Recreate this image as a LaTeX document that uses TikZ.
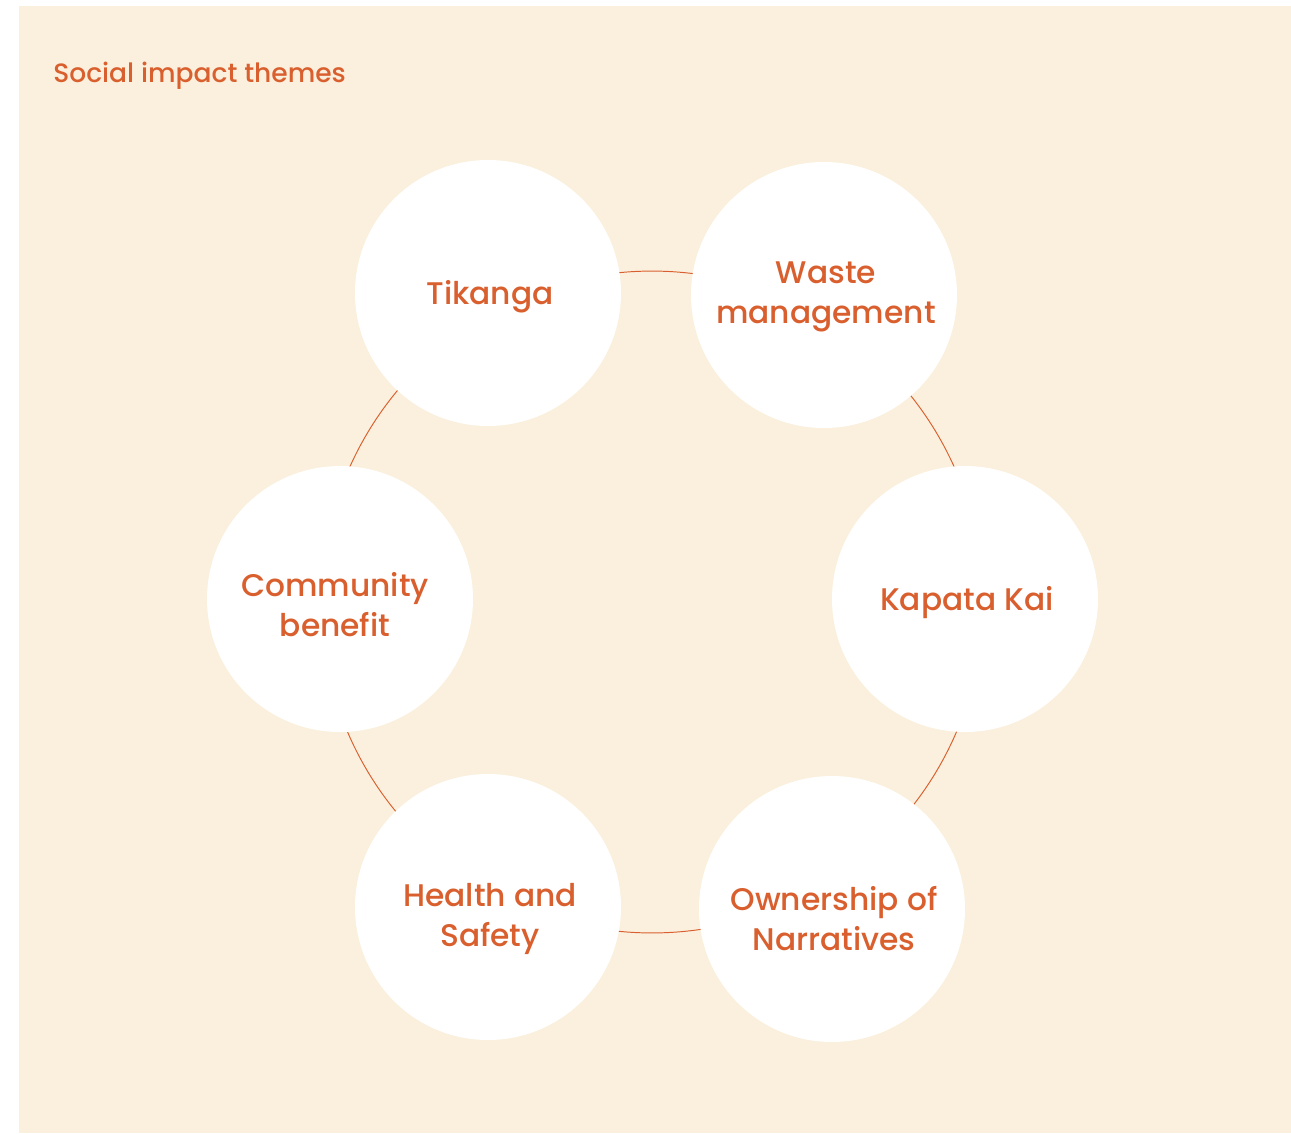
\documentclass[tikz,border=0pt]{standalone}
\usepackage{fontspec}
\setmainfont{Poppins}[UprightFont=* Medium]
\usepackage{tikz}
\usetikzlibrary{positioning}

\definecolor{sand}{HTML}{FBF0DD}
\definecolor{rust}{HTML}{D9602E}

\begin{document}
\begin{tikzpicture}
			[x=0.02cm,y=-0.02cm,
			theme/.style={circle,fill=white,inner sep=0pt,minimum size=5.32cm},
			themetext/.style={anchor=base,inner sep=0pt,text=rust,align=center,
				font=\fontsize{17.8}{22.5}\selectfont}]
			\useasboundingbox (0,0) rectangle (1291,1133);
			\fill[sand] (19,6) rectangle (1291,1133);
			\node[anchor=base west,inner sep=0pt,text=rust,font=\fontsize{15.1}{18}\selectfont]
				(title) at (53,82) {Social impact themes};
			
			% ring behind the themes
			\coordinate (hub) at (652,602);
			\draw[rust,line width=0.55pt] (hub) circle[radius=6.62cm];
			
			% white discs
			\node[theme] (tik) at (488,293) {};
			\node[theme] (waste) at (824,295) {};
			\node[theme] (kai) at (965,599) {};
			\node[theme] (own) at (832,909) {};
			\node[theme] (health) at (488,907) {};
			\node[theme] (comm) at (340,599) {};
			
			% labels, placed on the last baseline
			\node[themetext] (tiktext) at (490,304) {Tikanga};
			\node[themetext] (wastetext) at (826,323) {Waste\\management};
			\node[themetext] (kaitext) at (967,610) {Kapata Kai};
			\node[themetext] (owntext) at (834,950) {Ownership of\\Narratives};
			\node[themetext] (healthtext) at (490,946) {Health and\\Safety};
			\node[themetext] (commtext) at (335,636) {Community\\benefit};
			\end{tikzpicture}
\end{document}
